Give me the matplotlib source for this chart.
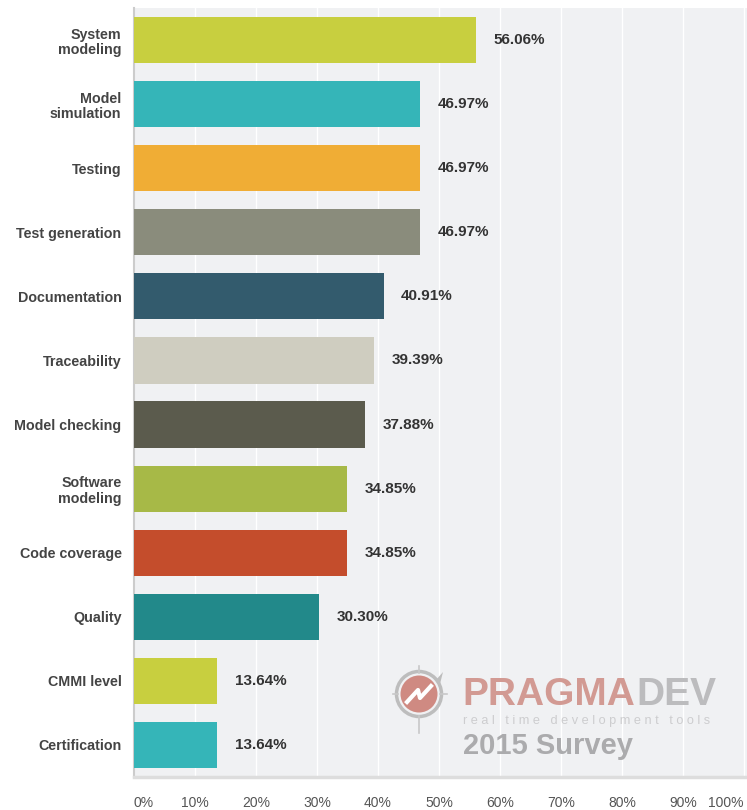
import matplotlib
matplotlib.use("Agg")
import matplotlib.pyplot as plt
from matplotlib.patches import Polygon, Ellipse
from matplotlib.lines import Line2D

categories = ["System\nmodeling", "Model\nsimulation", "Testing", "Test generation",
              "Documentation", "Traceability", "Model checking", "Software\nmodeling",
              "Code coverage", "Quality", "CMMI level", "Certification"]
values = [56.06, 46.97, 46.97, 46.97, 40.91, 39.39, 37.88, 34.85, 34.85, 30.30, 13.64, 13.64]
colors = ["#c8cf3f", "#35b5b8", "#f0ad35", "#8a8c7c", "#335b6d", "#cfcdc0",
          "#5b5b4d", "#a7b947", "#c44d2c", "#22898a", "#c8cf3f", "#35b5b8"]
xticks = [0, 10, 20, 30, 40, 50, 60, 70, 80, 90, 100]
xtick_labels = ["0%", "10%", "20%", "30%", "40%", "50%", "60%", "70%", "80%", "90%", "100%"]

W, H = 747, 810
plt.rcParams['font.family'] = ['Liberation Sans', 'DejaVu Sans']
fig = plt.figure(figsize=(W / 100, H / 100), dpi=100)
fig.patch.set_facecolor("white")
ax = fig.add_axes([134 / W, 1 - 777 / H, 1 - 134 / W, (777 - 8) / H])
ax.set_facecolor("#f0f1f3")

ypos = list(range(len(categories)))
ax.barh(ypos, values, height=0.72, color=colors, zorder=3)
ax.set_ylim(len(categories) - 0.5, -0.5)
ax.set_xlim(0, 100.5)

for x in xticks[1:]:
    ax.axvline(x, color="white", lw=1.0, zorder=1)

for y, v in zip(ypos, values):
    ax.text(v + 2.9, y, f"{v:.2f}%", va="center", ha="left", fontsize=11,
            fontweight="bold", color="#333333", zorder=4)

ax.set_yticks(ypos)
ax.set_yticklabels(categories, fontsize=10.3, fontweight="bold", color="#444444",
                   linespacing=1.15, multialignment="right")
ax.tick_params(axis="y", length=0, pad=9)
ax.set_xticks(xticks)
ax.set_xticklabels(xtick_labels, fontsize=10, color="#555555")
ax.tick_params(axis="x", length=0, pad=14)
labels = ax.get_xticklabels()
labels[0].set_ha("left")
labels[-1].set_ha("right")

for s in ["top", "right"]:
    ax.spines[s].set_visible(False)
ax.spines["left"].set_color("#cccccc")
ax.spines["left"].set_linewidth(1.5)
ax.spines["bottom"].set_color("#dddddd")
ax.spines["bottom"].set_linewidth(2.5)

# Watermark
def fx(px):
    return px / W

def fy(py):
    return 1 - py / H

t1 = fig.text(fx(462), fy(695), "PRAGMA", fontsize=28, fontweight="bold",
              color="#d29a93", ha="left", va="center", zorder=10)
ax.annotate("DEV", xy=(1, 0.5), xycoords=t1, xytext=(1, 0), textcoords="offset points",
            fontsize=28, fontweight="bold", color="#bcbcbe", ha="left", va="center",
            annotation_clip=False, zorder=10)
fig.text(fx(463), fy(721), "r e a l   t i m e   d e v e l o p m e n t   t o o l s",
         fontsize=9.2, color="#cdcdcf", ha="left", va="center")
fig.text(fx(463), fy(746), "2015 Survey", fontsize=21, fontweight="bold",
         color="#ababad", ha="left", va="center")

cx, cy = 419, 694
fig.add_artist(Line2D([fx(393), fx(398)], [fy(cy), fy(cy)], color="#c8c8c8", lw=1.2))
fig.add_artist(Line2D([fx(440), fx(447)], [fy(cy), fy(cy)], color="#c8c8c8", lw=1.2))
fig.add_artist(Line2D([fx(cx), fx(cx)], [fy(666), fy(673)], color="#c8c8c8", lw=1.2))
fig.add_artist(Line2D([fx(cx), fx(cx)], [fy(716), fy(733)], color="#c8c8c8", lw=1.2))
fig.add_artist(Ellipse((fx(cx), fy(cy)), 45 / W, 45 / H, facecolor="#f0f1f3",
                       edgecolor="#bdbdbd", lw=2.5))
fig.add_artist(Ellipse((fx(cx), fy(cy)), 37 / W, 37 / H, facecolor="#cf8a82",
                       edgecolor="none"))
fig.add_artist(Polygon([(fx(436), fy(680)), (fx(443), fy(672)), (fx(440), fy(684))],
                       closed=True, facecolor="#bdbdbd", edgecolor="none"))
fig.add_artist(Line2D([fx(407), fx(418), fx(420), fx(431)],
                      [fy(702), fy(690), fy(698), fy(686)], color="white", lw=3))

fig.savefig("out.png", dpi=100)
